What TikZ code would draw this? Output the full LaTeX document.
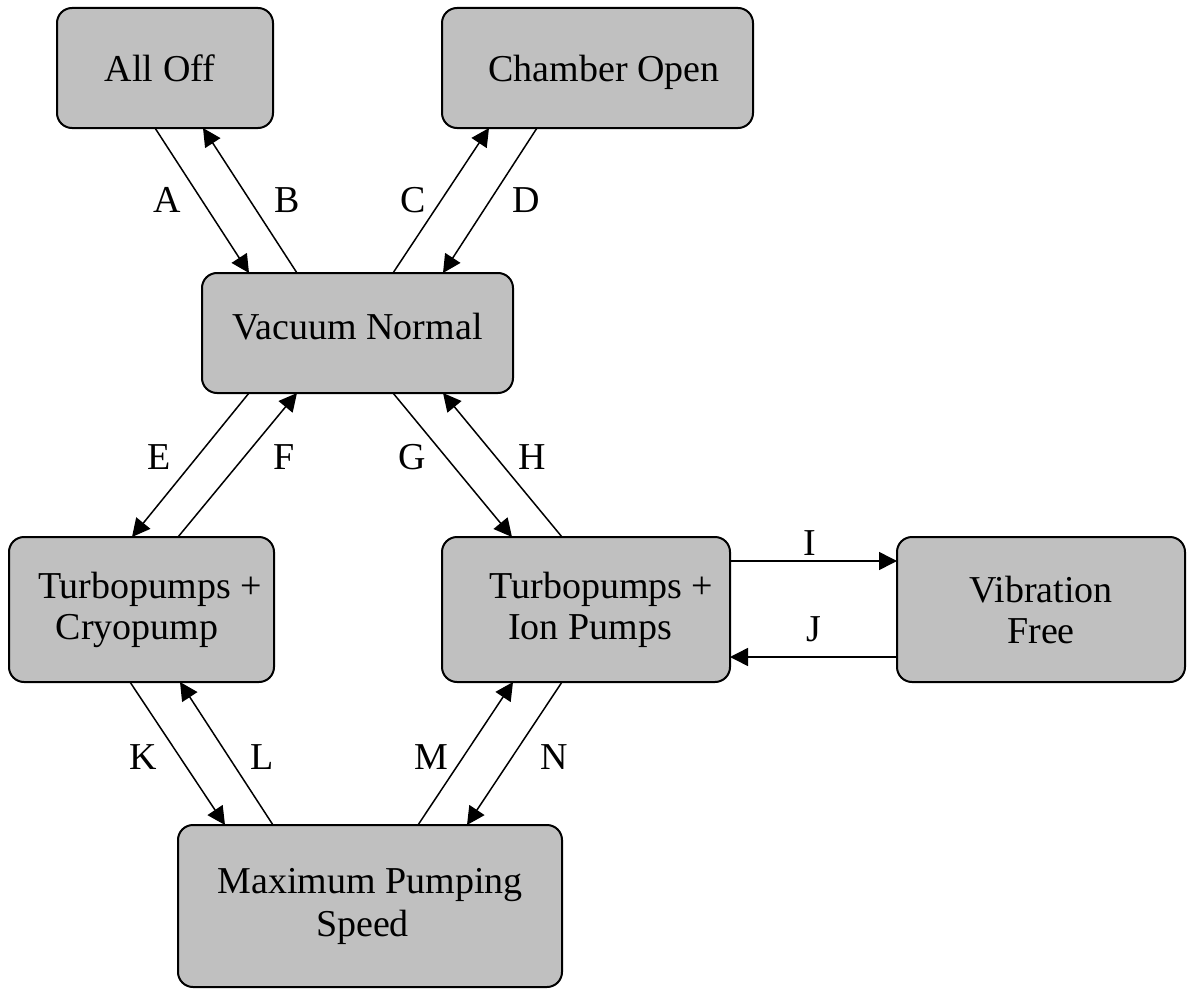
\documentclass[tikz,border=0pt]{standalone}
\usepackage{fontspec}
\setmainfont{Liberation Serif}
\usetikzlibrary{arrows.meta}
\definecolor{boxgray}{HTML}{C0C0C0}
\begin{document}
\begin{tikzpicture}[x=1pt,y=-1pt,
  state/.style={draw=black, line width=2pt, fill=boxgray, rounded corners=15pt,
    inner sep=0pt, outer sep=0pt, font=\fontsize{38}{41}\selectfont, align=center},
  conn/.style={line width=1.5pt, -{Triangle[length=18pt,width=18pt]}},
  lbl/.style={inner sep=0pt, font=\fontsize{38}{41}\selectfont}]
\useasboundingbox (0,0) rectangle (1189,990);

% states
\node[state, minimum width=216pt, minimum height=120pt] (alloff) at (165,68) {All Off\hspace*{10pt}};
\node[state, minimum width=311pt, minimum height=120pt, text depth=0pt] (chamber) at (597.5,68) {\hspace*{13pt}Chamber Open};
\node[state, minimum width=311pt, minimum height=120pt, text depth=13.6pt] (vacuum) at (357.5,333) {Vacuum Normal};
\node[state, minimum width=265pt, minimum height=145pt] (cryo) at (141.5,609.5) {\hspace*{17pt}Turbopumps +\\Cryopump\hspace*{9pt}};
\node[state, minimum width=288pt, minimum height=145pt] (ion) at (586,609.5) {\hspace*{31pt}Turbopumps +\\\hspace*{8pt}Ion Pumps};
\node[state, minimum width=288pt, minimum height=145pt] (vib) at (1041,609.5) {Vibration\\Free};
\node[state, minimum width=384pt, minimum height=162pt, font=\fontsize{38}{43}\selectfont] (maxp) at (370,906) {Maximum Pumping\\Speed\hspace*{15pt}};

% transitions
\draw[conn] ([xshift=-10pt]alloff.south) -- ([xshift=-108.5pt]vacuum.north);
\draw[conn] ([xshift=-60.5pt]vacuum.north) -- ([xshift=38pt]alloff.south);
\draw[conn] ([xshift=35.5pt]vacuum.north) -- ([xshift=-108.5pt]chamber.south);
\draw[conn] ([xshift=-60.5pt]chamber.south) -- ([xshift=85.5pt]vacuum.north);
\draw[conn] ([xshift=-108.5pt]vacuum.south) -- ([xshift=-9.5pt]cryo.north);
\draw[conn] ([xshift=36.5pt]cryo.north) -- ([xshift=-60.5pt]vacuum.south);
\draw[conn] ([xshift=35.5pt]vacuum.south) -- ([xshift=-74pt]ion.north);
\draw[conn] ([xshift=-24pt]ion.north) -- ([xshift=85.5pt]vacuum.south);
\draw[conn] ([yshift=48.5pt]ion.east) -- ([yshift=48.5pt]vib.west);
\draw[conn] ([yshift=-47.5pt]vib.west) -- ([yshift=-47.5pt]ion.east);
\draw[conn] ([xshift=-11.5pt]cryo.south) -- ([xshift=-145pt]maxp.north);
\draw[conn] ([xshift=-97pt]maxp.north) -- ([xshift=38.5pt]cryo.south);
\draw[conn] ([xshift=48pt]maxp.north) -- ([xshift=-73pt]ion.south);
\draw[conn] ([xshift=-24pt]ion.south) -- ([xshift=97pt]maxp.north);

% labels
\node[lbl] (lA) at (167,200) {A};
\node[lbl] (lB) at (287,200) {B};
\node[lbl] (lC) at (413,200) {C};
\node[lbl] (lD) at (526,200) {D};
\node[lbl] (lE) at (159,457) {E};
\node[lbl] (lF) at (284,457) {F};
\node[lbl] (lG) at (412,457) {G};
\node[lbl] (lH) at (532,457) {H};
\node[lbl] (lI) at (810,543) {I};
\node[lbl] (lJ) at (814,629) {J};
\node[lbl] (lK) at (143,757) {K};
\node[lbl] (lL) at (262,757) {L};
\node[lbl] (lM) at (431,757) {M};
\node[lbl] (lN) at (554,757) {N};
\end{tikzpicture}
\end{document}
